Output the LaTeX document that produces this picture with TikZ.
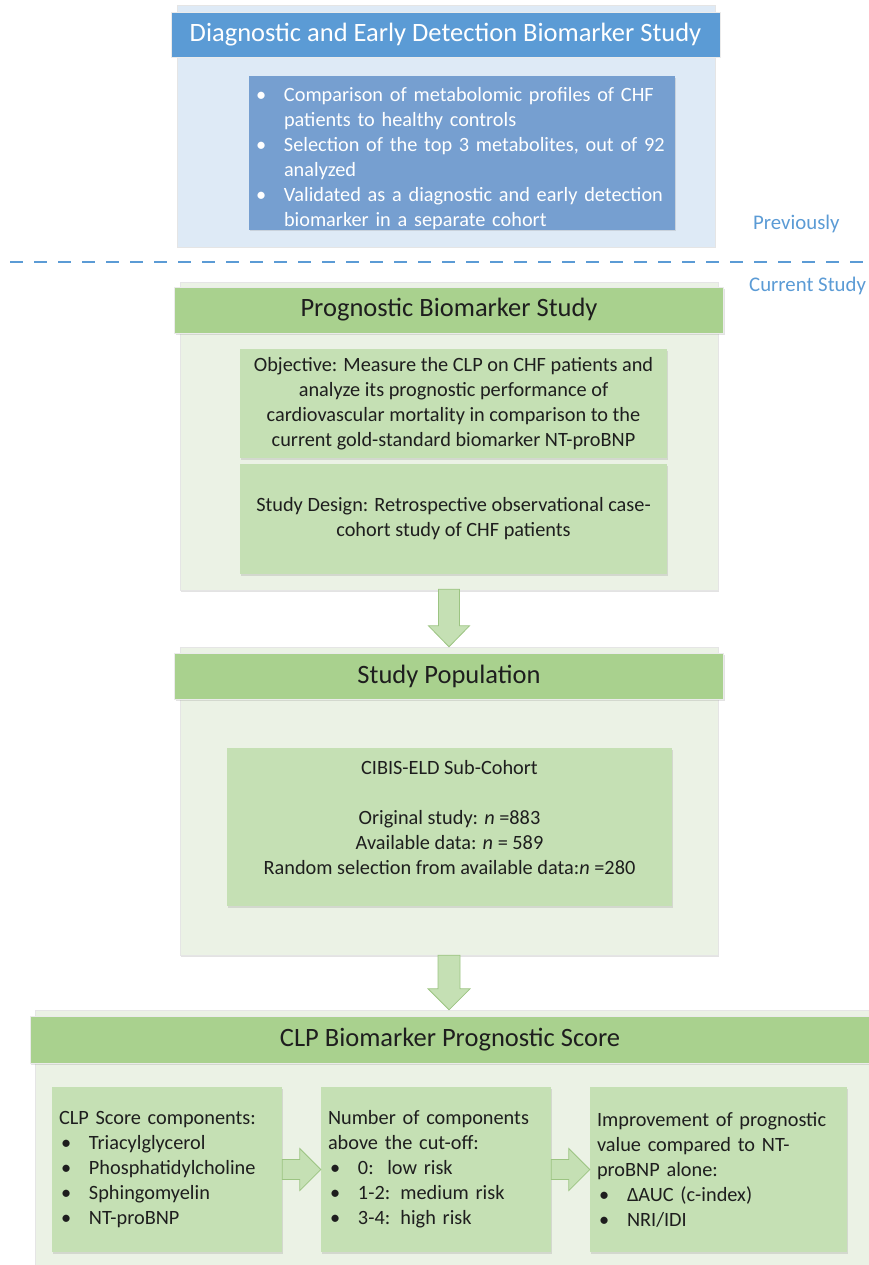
\documentclass[tikz,border=0pt]{standalone}
\usepackage{fontspec}
\setmainfont{Carlito}
\usetikzlibrary{calc,shadows}

\definecolor{hdblue}{HTML}{5B9BD5}
\definecolor{inblue}{HTML}{769FD0}
\definecolor{outblue}{HTML}{DEEAF6}
\definecolor{hdgreen}{HTML}{A9D18E}
\definecolor{ingreen}{HTML}{C5E0B4}
\definecolor{outgreen}{HTML}{EBF2E5}
\definecolor{arrowline}{HTML}{9CC482}
\definecolor{txt}{HTML}{1E1E1E}

\newcommand{\bodyfont}{\fontsize{20.3}{25}\selectfont}
\newcommand{\headfont}{\fontsize{26.5}{30}\selectfont}
\newcommand{\bitem}{\par\hangindent=30pt\hangafter=1\noindent\makebox[30pt][l]{\hspace{2pt}•}}

\tikzset{
  boxshadow/.style={drop shadow={shadow xshift=1.2pt, shadow yshift=-1.5pt, opacity=0.22}},
  outerbox/.style={draw=black!10, fill=#1, inner sep=0pt, boxshadow},
  headbar/.style={draw=black!8, fill=#1, inner sep=0pt, font=\headfont, text=txt, boxshadow},
  innerbox/.style={fill=#1, inner xsep=7pt, inner ysep=0pt, font=\bodyfont, text=txt,
    boxshadow, execute at begin node=\setlength{\parindent}{0pt}},
  blockarrow/.style={draw=arrowline, fill=ingreen, line width=0.8pt, line join=miter},
  sepline/.style={draw=hdblue, line width=1.8pt, dash pattern=on 13pt off 11pt},
  note/.style={text=hdblue, font=\fontsize{20.8}{24}\selectfont, inner sep=0pt},
}

\begin{document}
\begin{tikzpicture}[x=1pt, y=-1pt]
\useasboundingbox (0,0) rectangle (869,1265);

% previous study
\node[outerbox=outblue, minimum width=538, minimum height=242] (diag) at (446,126) {};
\node[headbar=hdblue, text=white, minimum width=549, minimum height=45] (diaghead) at (445.5,34.5) {Diagnostic and Early Detection Biomarker Study};
\node[innerbox=inblue, text=white, inner xsep=5pt, minimum width=426, minimum height=152, text width=416, align=left] (diagbox) at (462,153)
  {\bitem Comparison of metabolomic profiles of CHF\newline patients to healthy controls
   \bitem Selection of the top 3 metabolites, out of 92\newline analyzed
   \bitem Validated as a diagnostic and early detection\newline biomarker in a separate cohort\par};

\node[note, anchor=west] (prev) at (753,224) {Previously};
\coordinate (sepl) at (10,262);
\coordinate (sepr) at (869,262);
\draw[sepline] (sepl) -- (sepr);
\node[note, anchor=west] (curr) at (749,286) {Current Study};

% prognostic study
\node[outerbox=outgreen, minimum width=538, minimum height=308] (prog) at (449,436) {};
\node[headbar=hdgreen, minimum width=549, minimum height=46] (proghead) at (449,310) {Prognostic Biomarker Study};
\node[innerbox=ingreen, minimum width=427, minimum height=109, align=center] (objective) at (453.5,403.5)
  {Objective: Measure the CLP on CHF patients and\\analyze its prognostic performance of\\cardiovascular mortality in comparison to the\\current gold-standard biomarker NT-proBNP};
\node[innerbox=ingreen, minimum width=427, minimum height=110, align=center] (design) at (453.5,519)
  {Study Design: Retrospective observational case-\\cohort study of CHF patients};

% study population
\node[outerbox=outgreen, minimum width=538, minimum height=308] (pop) at (449,801) {};
\node[headbar=hdgreen, minimum width=549, minimum height=46] (pophead) at (449,676) {Study Population};
\node[innerbox=ingreen, minimum width=445, minimum height=158] (cohort) at (449.5,827) {};
\node[font=\bodyfont, text=txt, align=center, inner sep=0pt] (cohorttext) at (449.5,818)
  {CIBIS-ELD Sub-Cohort\\[25pt]Original study: \textit{n} =883\\Available data: \textit{n} = 589\\Random selection from available data:\textit{n} =280};

% score
\node[outerbox=outgreen, minimum width=840, minimum height=265] (clp) at (455,1142.5) {};
\node[headbar=hdgreen, minimum width=840, minimum height=47] (clphead) at (450,1039.5) {CLP Biomarker Prognostic Score};
\node[innerbox=ingreen, minimum width=230, minimum height=165, text width=216, align=left] (components) at (167,1169.5)
  {CLP Score components:
   \bitem Triacylglycerol
   \bitem Phosphatidylcholine
   \bitem Sphingomyelin
   \bitem NT-proBNP\par};
\node[innerbox=ingreen, minimum width=230, minimum height=165, text width=216, align=left] (riskgroups) at (436,1169.5)
  {Number of components\newline above the cut-off:
   \bitem 0:\ \ low risk
   \bitem 1-2: medium risk
   \bitem 3-4: high risk\par};
\node[innerbox=ingreen, minimum width=257, minimum height=165, text width=243, align=left] (improvement) at (718.5,1169.5)
  {Improvement of prognostic\newline value compared to NT-\newline proBNP alone:
   \bitem ΔAUC (c-index)
   \bitem NRI/IDI\par};

% arrows
\coordinate (tip1) at (prog.south |- pop.north);
\coordinate (tip2) at (pop.south |- clp.north);
\draw[blockarrow] ($(prog.south)+(-10.5,-1)$) -- ($(tip1)+(-10.5,-21)$) -- ($(tip1)+(-20.5,-21)$) -- (tip1)
  -- ($(tip1)+(20.5,-21)$) -- ($(tip1)+(10.5,-21)$) -- ($(prog.south)+(10.5,-1)$) -- cycle;
\draw[blockarrow] ($(pop.south)+(-11,0)$) -- ($(tip2)+(-11,-21)$) -- ($(tip2)+(-21,-21)$) -- (tip2)
  -- ($(tip2)+(21,-21)$) -- ($(tip2)+(11,-21)$) -- ($(pop.south)+(11,0)$) -- cycle;
\draw[blockarrow] ($(components.east)+(0,-10)$) -- ($(riskgroups.west)+(-21,-10)$) -- ($(riskgroups.west)+(-21,-21)$) -- (riskgroups.west)
  -- ($(riskgroups.west)+(-21,21)$) -- ($(riskgroups.west)+(-21,10)$) -- ($(components.east)+(0,10)$) -- cycle;
\draw[blockarrow] ($(riskgroups.east)+(0,-10)$) -- ($(improvement.west)+(-21,-10)$) -- ($(improvement.west)+(-21,-21)$) -- (improvement.west)
  -- ($(improvement.west)+(-21,21)$) -- ($(improvement.west)+(-21,10)$) -- ($(riskgroups.east)+(0,10)$) -- cycle;
\end{tikzpicture}
\end{document}
